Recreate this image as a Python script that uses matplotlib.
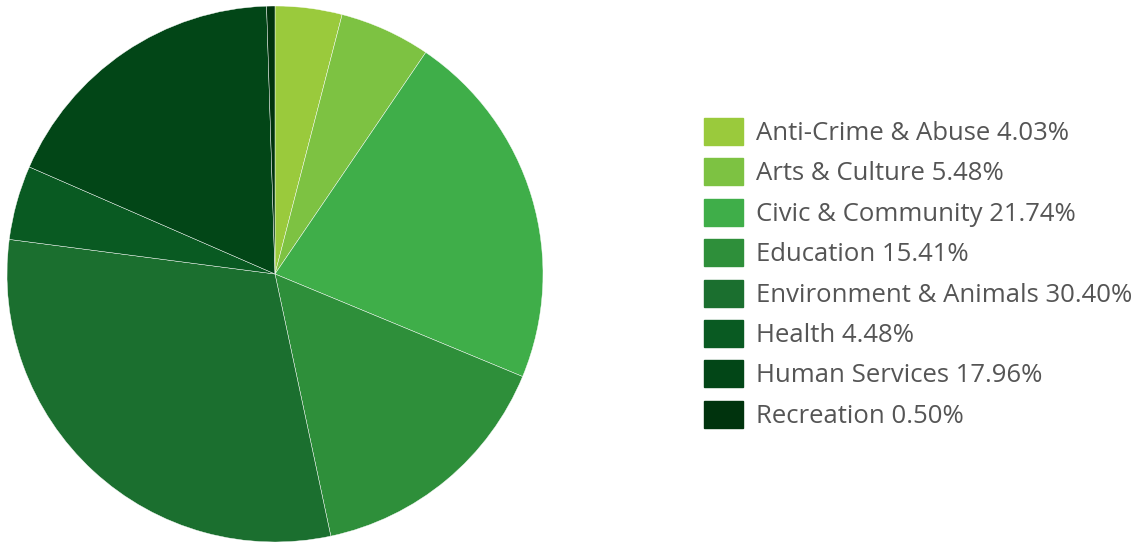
import matplotlib.pyplot as plt
from matplotlib.patches import Rectangle

categories = ["Anti-Crime & Abuse", "Arts & Culture", "Civic & Community", "Education",
              "Environment & Animals", "Health", "Human Services", "Recreation"]
shares = [4.03, 5.48, 21.74, 15.41, 30.40, 4.48, 17.96, 0.50]
colors = ["#9aca3c", "#7dc242", "#3fae49", "#2e8f3a", "#1b6f2f", "#095a22", "#024617", "#00330d"]

W, H = 1146, 542
fig = plt.figure(figsize=(W / 100, H / 100), dpi=100)

ax = fig.add_axes([7 / W, 0, 536 / W, 536 / H])
ax.pie(shares, colors=colors, startangle=90, counterclock=False,
       wedgeprops=dict(edgecolor="white", linewidth=0.3))
ax.set_aspect("equal")
ax.set_xlim(-1.0, 1.0)
ax.set_ylim(-1.0, 1.0)

# legend drawn by hand
top = 118
step = 40.4
for i, (name, val, col) in enumerate(zip(categories, shares, colors)):
    y0 = top + i * step
    fig.patches.append(Rectangle((704 / W, 1 - (y0 + 27) / H), 39 / W, 27 / H,
                                 transform=fig.transFigure, color=col))
    fig.text(756 / W, 1 - (y0 + 15.5) / H, f"{name} {val:.2f}%",
             fontsize=18.5, color="#555555", va="center", ha="left", family="Open Sans")

fig.savefig("out.png", dpi=100)
